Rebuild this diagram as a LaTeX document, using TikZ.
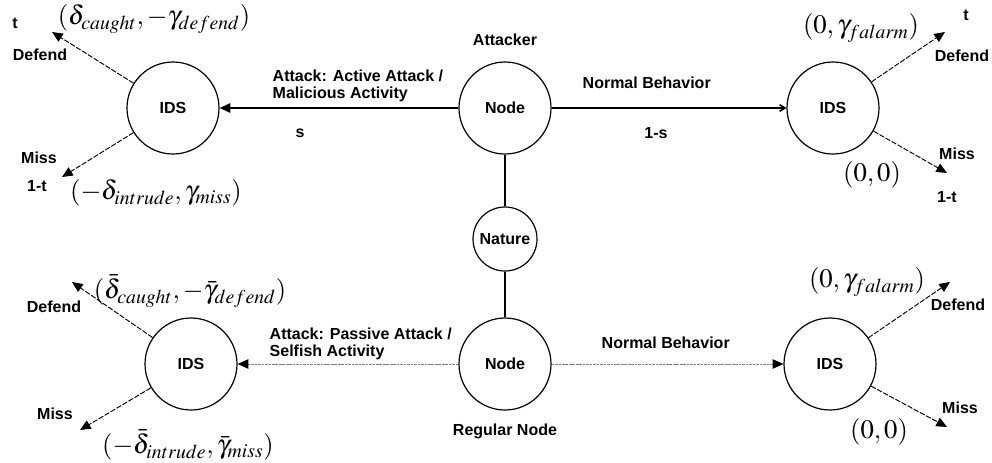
\documentclass[tikz,border=0pt]{standalone}
\usepackage{mathptmx}
\usepackage[no-math]{fontspec}
\setmainfont{Liberation Sans}
\usetikzlibrary{arrows.meta}

\begin{document}
\begin{tikzpicture}[x=0.75pt, y=-0.75pt, font=\fontsize{12}{12.75}\selectfont\bfseries,
    main/.style = {draw, circle, line width=0.9pt, minimum size=69pt, inner sep=0pt},
    small/.style = {draw, circle, line width=0.9pt, minimum size=48pt, inner sep=0pt},
    pay/.style = {font=\fontsize{20}{24}\selectfont},
    branch/.style = {line width=0.7pt, dash pattern=on 4pt off 1.2pt, -{Triangle[length=8pt, width=7pt]}},
    passive/.style = {line width=0.7pt, gray, dash pattern=on 2pt off 0.6pt, -{Triangle[length=8pt, width=7pt, black]}}]
    \useasboundingbox (0,0) rectangle (992,462);
    % Nodes
    \node[main] (A) at (505,108) {Node};
    \node[main] (T1) at (173,108) {IDS};
    \node[main] (T2) at (833,108) {IDS};
    \node[small] (Nat) at (505,239) {Nature};
    \node[main] (R) at (505,364) {Node};
    \node[main] (B1) at (191,364) {IDS};
    \node[main] (B2) at (830,364) {IDS};

    % Arrow tips
    \coordinate (T1d) at (52,32);
    \coordinate (T1m) at (62,177);
    \coordinate (T2d) at (945,32);
    \coordinate (T2m) at (947,173);
    \coordinate (B1d) at (72,282);
    \coordinate (B1m) at (80,430);
    \coordinate (B2d) at (950,282);
    \coordinate (B2m) at (947,427);

    % Top game
    \node at (505,40) {Attacker};
    \draw[line width=1.2pt, -{Triangle[length=8pt, width=7pt]}] (A) to (T1);
    \draw[line width=1.2pt, -{Straight Barb[length=4pt, width=5pt]}] (A) to (T2);
    \node[anchor=west, align=left] at (268,86) {Attack: Active Attack /\\Malicious Activity};
    \node at (300,133) {s};
    \node[anchor=west] at (578,83) {Normal Behavior};
    \node at (656,133) {1-s};
    \draw[branch] (T1) to (T1d);
    \draw[branch] (T1) to (T1m);
    \draw[branch] (T2) to (T2d);
    \draw[branch] (T2) to (T2m);
    \node at (15,23) {t};
    \node at (40,55) {Defend};
    \node at (39,158) {Miss};
    \node at (37,186) {1-t};
    \node at (966,15) {t};
    \node at (962,56) {Defend};
    \node at (957,154) {Miss};
    \node at (947,197) {1-t};
    \node[pay] at (154,19) {$(\delta_{caught}, -\gamma_{defend})$};
    \node[pay] at (156,193) {$(-\delta_{intrude}, \gamma_{miss})$};
    \node[pay] at (861,28) {$(0, \gamma_{falarm})$};
    \node[pay] at (872,175) {$(0,0)$};

    % Nature
    \draw[line width=0.9pt] (A) to (Nat);
    \draw[line width=0.9pt] (Nat) to (R);

    % Bottom game
    \node at (505,431) {Regular Node};
    \draw[passive] (R) to (B1);
    \draw[passive] (R) to (B2);
    \node[anchor=west, align=left] at (265,344) {Attack: Passive Attack /\\Selfish Activity};
    \node[anchor=west] at (597,343) {Normal Behavior};
    \draw[branch] (B1) to (B1d);
    \draw[branch] (B1) to (B1m);
    \draw[branch] (B2) to (B2d);
    \draw[branch] (B2) to (B2m);
    \node at (54,307) {Defend};
    \node at (55,414) {Miss};
    \node at (958,305) {Defend};
    \node at (960,408) {Miss};
    \node[pay] at (190,291) {$(\bar{\delta}_{caught}, -\bar{\gamma}_{defend})$};
    \node[pay] at (188,445) {$(-\bar{\delta}_{intrude}, \bar{\gamma}_{miss})$};
    \node[pay] at (867,282) {$(0, \gamma_{falarm})$};
    \node[pay] at (879,432) {$(0,0)$};
\end{tikzpicture}
\end{document}
